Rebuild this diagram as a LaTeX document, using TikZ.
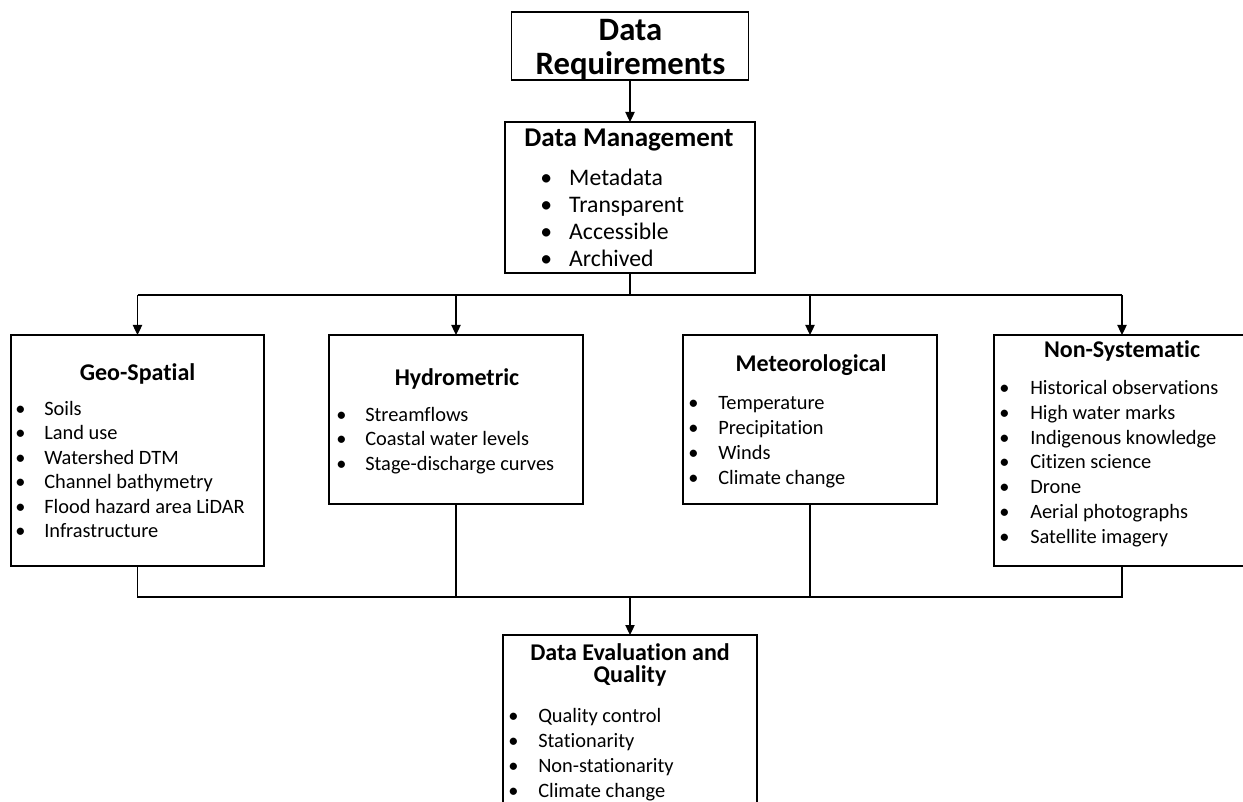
\documentclass[tikz,border=0pt]{standalone}
\usepackage{fontspec}
\setmainfont{Carlito}[Ligatures=NoCommon]
\usetikzlibrary{arrows.meta}

% 1px = 0.75pt; font sizes below are in pt
\newlength{\unitpx}\setlength{\unitpx}{0.75pt}
\newcommand{\bwd}{28}
\newcommand{\itm}[1]{\makebox[\bwd\unitpx][l]{\textbullet}#1}

\begin{document}
\begin{tikzpicture}[x=0.75pt,y=-0.75pt,
  box/.style={draw=black, line width=1.1pt, inner sep=0pt, outer sep=0pt, fill=white},
  link/.style={draw=black, line width=0.9pt},
  arr/.style={link, -{Triangle[length=7.5pt,width=7pt]}},
  head/.style={font=\bfseries\fontsize{18pt}{21pt}\selectfont, align=center, inner sep=0pt},
  items/.style={anchor=north west, align=left, inner sep=0pt,
    font=\fontsize{15.3pt}{18.5pt}\selectfont,
    execute at begin node={\gdef\bwd{#1}}},
  items/.default=28
]
\useasboundingbox (0,0) rectangle (1243,802);
\clip (0,0) rectangle (1243,802);

% boxes
\node[box, minimum width=237*0.75pt, minimum height=68*0.75pt] (req) at (630,46) {};
\node[box, minimum width=250*0.75pt, minimum height=151*0.75pt] (dm) at (630,197.5) {};
\node[box, minimum width=253*0.75pt, minimum height=231*0.75pt] (geo) at (137.5,450.5) {};
\node[box, minimum width=254*0.75pt, minimum height=169*0.75pt] (hyd) at (456,419.5) {};
\node[box, minimum width=254*0.75pt, minimum height=169*0.75pt] (met) at (810,419.5) {};
\node[box, minimum width=256*0.75pt, minimum height=231*0.75pt] (non) at (1122,450.5) {};
\node[box, minimum width=254*0.75pt, minimum height=230*0.75pt] (eval) at (630,750) {};

% titles
\node[font=\bfseries\fontsize{24.5pt}{25.3pt}\selectfont, align=center, inner sep=0pt] (reqt) at (630.5,49.5) {Data\\Requirements};
\node[head, font=\bfseries\fontsize{20.3pt}{22pt}\selectfont] (dmt) at (629,140) {Data Management};
\node[head] (geot) at (137.5,374) {Geo-Spatial};
\node[head] (hydt) at (457,379) {Hydrometric};
\node[head] (mett) at (811,365) {Meteorological};
\node[head] (nont) at (1122,351) {Non-Systematic};
\node[head, font=\bfseries\fontsize{18pt}{16.5pt}\selectfont] (evalt) at (630,665) {Data Evaluation and\\Quality};

% item lists
\node[items=29, font=\fontsize{17.8pt}{20.25pt}\selectfont] (dml) at (540,169) {%
  \itm{Metadata}\\ \itm{Transparent}\\ \itm{Accessible}\\ \itm{Archived}};
\node[items=29, font=\fontsize{15.3pt}{18.35pt}\selectfont] (geol) at (15,401) {%
  \itm{Soils}\\ \itm{Land use}\\ \itm{Watershed DTM}\\
  \itm{Channel bathymetry}\\ \itm{Flood hazard area LiDAR}\\ \itm{Infrastructure}};
\node[items=29, font=\fontsize{15.3pt}{18.4pt}\selectfont] (hydl) at (336,407) {%
  \itm{Streamflows}\\ \itm{Coastal water levels}\\ \itm{Stage-discharge curves}};
\node[items=30, font=\fontsize{15.3pt}{18.75pt}\selectfont] (metl) at (688,396) {%
  \itm{Temperature}\\ \itm{Precipitation}\\ \itm{Winds}\\ \itm{Climate change}};
\node[items=31, font=\fontsize{15.3pt}{18.6pt}\selectfont] (nonl) at (999,380) {%
  \itm{Historical observations}\\ \itm{High water marks}\\ \itm{Indigenous knowledge}\\
  \itm{Citizen science}\\ \itm{Drone}\\ \itm{Aerial photographs}\\ \itm{Satellite imagery}};
\node[items=30, font=\fontsize{15.3pt}{18.75pt}\selectfont] (evall) at (508,708) {%
  \itm{Quality control}\\ \itm{Stationarity}\\ \itm{Non-stationarity}\\ \itm{Climate change}};

% connectors
\coordinate (split) at (630,295);
\coordinate (merge) at (630,597);
\draw[arr] (req.south) -- (dm.north);
\draw[link] (dm.south) -- (split);
\draw[link] (geo.north |- split) -- (non.north |- split);
\foreach \b in {geo,hyd,met,non}
  \draw[arr] (\b.north |- split) -- (\b.north);
\draw[link] (geo.south) |- (non.south |- merge) -- (non.south);
\draw[link] (hyd.south) -- (hyd.south |- merge);
\draw[link] (met.south) -- (met.south |- merge);
\draw[arr] (merge) -- (eval.north);
\end{tikzpicture}
\end{document}
